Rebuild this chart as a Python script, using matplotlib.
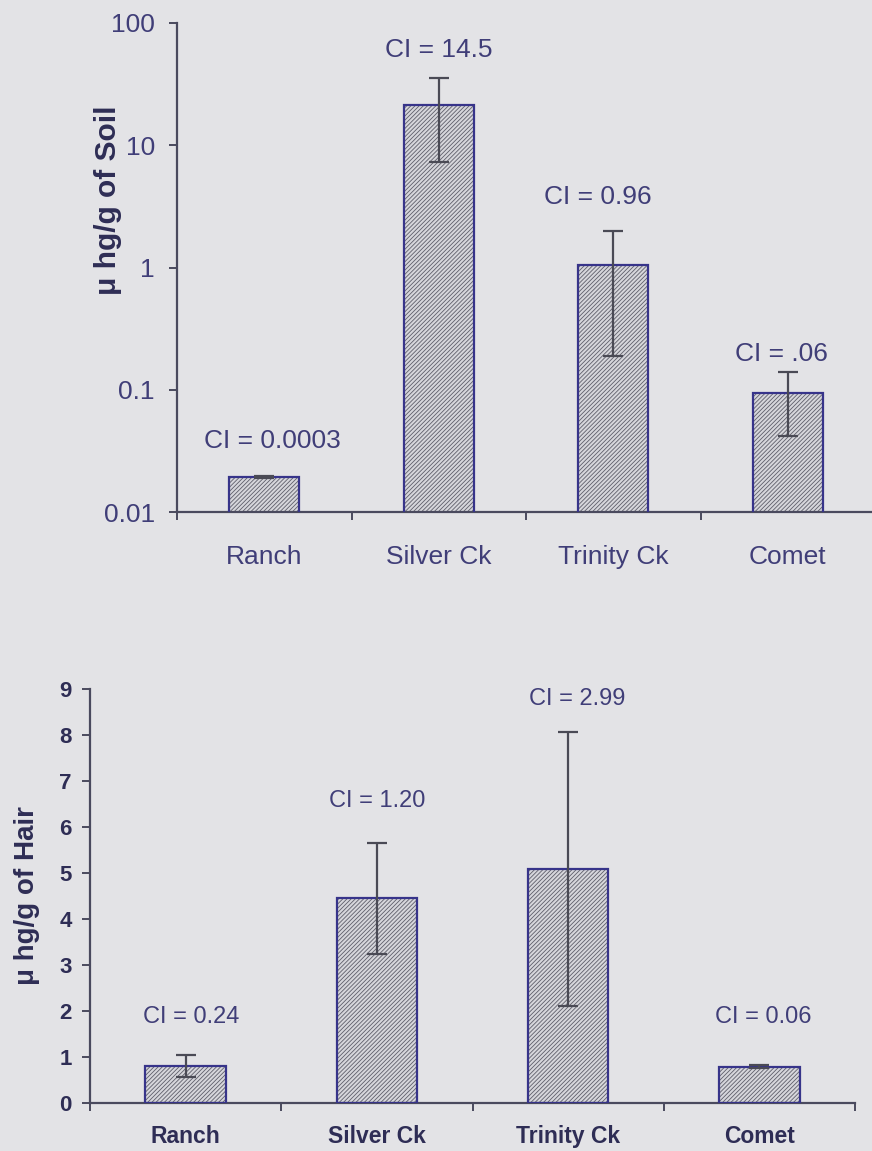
import numpy as np
import matplotlib
matplotlib.use("Agg")
import matplotlib.pyplot as plt

# data
sites = ["Ranch", "Silver Ck", "Trinity Ck", "Comet"]

soil = [0.0193, 21.3, 1.05, 0.094]
soil_lo = [0.0005, 14.0, 0.86, 0.052]
soil_hi = [0.0005, 14.2, 0.95, 0.046]
soil_ci = ["CI = 0.0003", "CI = 14.5", "CI = 0.96", "CI = .06"]

hair = [0.80, 4.45, 5.09, 0.79]
hair_err = [0.24, 1.20, 2.98, 0.03]
hair_ci = ["CI = 0.24", "CI = 1.20", "CI = 2.99", "CI = 0.06"]

bg = "#e3e3e6"
txt = "#403e78"
dark = "#2e2d55"
edge = "#37348a"
axc = "#4a4a5e"

plt.rcParams["font.family"] = ["Liberation Sans", "DejaVu Sans"]
plt.rcParams["hatch.linewidth"] = 0.6
plt.rcParams["hatch.color"] = "#5e5e6a"

fig = plt.figure(figsize=(8.72, 11.51), dpi=100, facecolor=bg)


def draw_bars(ax, x, vals, width):
    ax.bar(x, vals, width, color="#d6d6db", hatch="////////", edgecolor="#5e5e6a",
           linewidth=0, zorder=2)
    ax.bar(x, vals, width, color="none", edgecolor=edge, linewidth=1.6, zorder=3)


def style_axes(ax):
    ax.set_facecolor(bg)
    for s in ["top", "right"]:
        ax.spines[s].set_visible(False)
    ax.spines["left"].set_color(axc)
    ax.spines["bottom"].set_color(axc)
    ax.spines["left"].set_linewidth(1.6)
    ax.spines["bottom"].set_linewidth(1.6)
    ax.set_xlim(-0.5, 3.5)
    ax.set_xticks(np.arange(-0.5, 4.0, 1.0))
    ax.set_xticklabels([])
    ax.set_xticks(np.arange(4), minor=True)
    ax.tick_params(axis="x", which="major", direction="out", length=6, width=1.4, color=axc)
    ax.tick_params(axis="y", which="major", direction="out", length=6, width=1.4, color=axc)
    ax.tick_params(axis="y", which="minor", length=0)


# ---- top panel: soil (log scale)
ax1 = fig.add_axes([177 / 872, 1 - 512 / 1151, 698 / 872, 489 / 1151])
style_axes(ax1)
x = np.arange(len(sites))
draw_bars(ax1, x, soil, 0.40)
ax1.errorbar(x, soil, yerr=[soil_lo, soil_hi], fmt="none", ecolor="#4a4a55",
             elinewidth=1.6, capsize=7, capthick=1.6, zorder=4)
ax1.set_yscale("log")
ax1.set_ylim(0.01, 100)
ax1.set_yticks([0.01, 0.1, 1, 10, 100])
ax1.set_yticklabels(["0.01", "0.1", "1", "10", "100"])
ax1.tick_params(axis="y", labelsize=19, labelcolor=txt, pad=10)
ax1.set_xticklabels(sites, minor=True)
ax1.tick_params(axis="x", which="minor", length=0, labelsize=19, labelcolor=txt, pad=24)
ax1.set_ylabel("\u03bc hg/g of Soil", fontsize=21.5, fontweight="bold", color=dark)
ax1.yaxis.set_label_coords(-0.079, 0.638)

soil_off = [(8, 35), (0, 28), (-15, 34), (-6, 18)]
for i in range(len(sites)):
    ax1.annotate(soil_ci[i], (x[i], soil[i] + soil_hi[i]), xytext=soil_off[i],
                 textcoords="offset pixels", ha="center", va="center",
                 fontsize=19, color=txt)

# ---- bottom panel: hair (linear)
ax2 = fig.add_axes([90 / 872, 1 - 1103 / 1151, 765 / 872, 414 / 1151])
style_axes(ax2)
draw_bars(ax2, x, hair, 0.42)
ax2.errorbar(x, hair, yerr=hair_err, fmt="none", ecolor="#4a4a55",
             elinewidth=1.6, capsize=7, capthick=1.6, zorder=4)
ax2.set_ylim(0, 9)
ax2.set_yticks(range(10))
ax2.tick_params(axis="y", labelsize=16, labelcolor=dark, pad=7)
for lab in ax2.get_yticklabels():
    lab.set_fontweight("bold")
ax2.set_xticklabels(sites, minor=True, fontweight="bold")
ax2.tick_params(axis="x", which="minor", length=0, labelsize=16.5, labelcolor=dark, pad=16)
ax2.set_ylabel("\u03bc hg/g of Hair", fontsize=20, fontweight="bold", color=dark)
ax2.yaxis.set_label_coords(-0.065, 0.50)

hair_off = [(6, 38), (0, 42), (9, 33), (4, 48)]
for i in range(len(sites)):
    ax2.annotate(hair_ci[i], (x[i], hair[i] + hair_err[i]), xytext=hair_off[i],
                 textcoords="offset pixels", ha="center", va="center",
                 fontsize=17, color=txt)

fig.savefig("out.png", dpi=100, facecolor=bg)
